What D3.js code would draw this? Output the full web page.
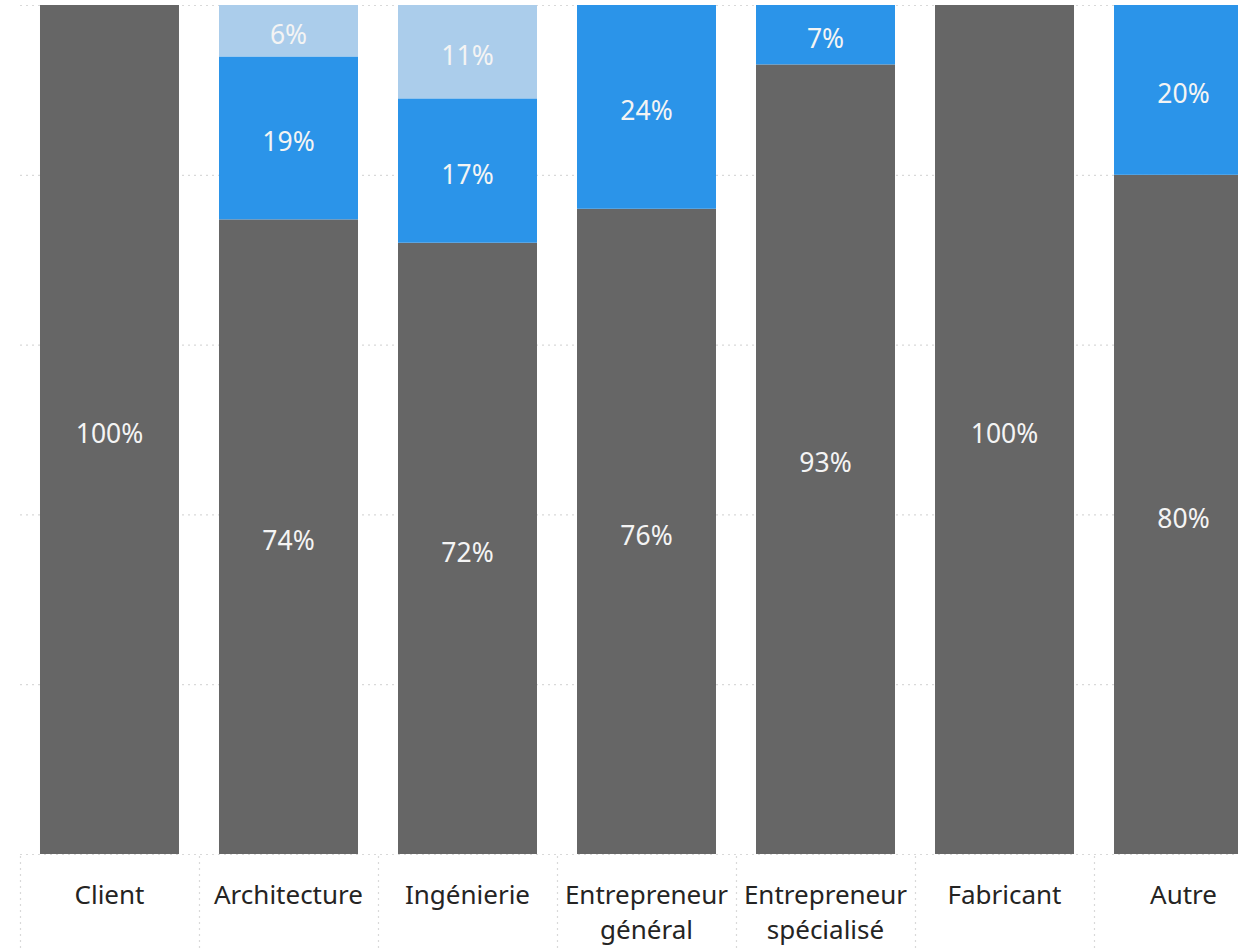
<!DOCTYPE html>
<html>
<head>
<meta charset="utf-8">
<script src="https://cdn.jsdelivr.net/npm/d3@7"></script>
<style>
  html, body { margin: 0; padding: 0; background: #ffffff; }
  svg { display: block; }
  text { font-family: "Segoe UI", "Noto Sans", "Open Sans", sans-serif; }
</style>
</head>
<body>
<svg id="chart" width="1238" height="948"></svg>
<script>
// Categories (x axis), each may wrap onto two lines
const categories = ["Client", "Architecture", "Ingénierie", "Entrepreneur général", "Entrepreneur spécialisé", "Fabricant", "Autre"];
const categoryLines = [["Client"], ["Architecture"], ["Ingénierie"], ["Entrepreneur", "général"], ["Entrepreneur", "spécialisé"], ["Fabricant"], ["Autre"]];

// Share of each category per series (percent)
const seriesNames = ["Principal", "Secondaire", "Tertiaire"];
const principal  = [100, 74, 72, 76, 93, 100, 80];
const secondaire = [0, 19, 17, 24, 7, 0, 20];
const tertiaire  = [0, 6, 11, 0, 0, 0, 0];

const gridTicks = [0, 20, 40, 60, 80, 100];
const colors = ["#666666", "#2b94e9", "#abcdeb"];

const svg = d3.select("#chart");

// Build rows for the stack (100% stacked: normalise each category)
const rows = categories.map((c, i) => {
  const total = principal[i] + secondaire[i] + tertiaire[i];
  return {
    cat: c,
    Principal: principal[i] / total * 100,
    Secondaire: secondaire[i] / total * 100,
    Tertiaire: tertiaire[i] / total * 100,
    raw: { Principal: principal[i], Secondaire: secondaire[i], Tertiaire: tertiaire[i] }
  };
});

const stack = d3.stack().keys(seriesNames);
const layers = stack(rows);

const x = d3.scaleBand()
  .domain(categories)
  .range([20, 1273])
  .paddingInner(0.2235)
  .paddingOuter(0.1117);

const y = d3.scaleLinear().domain([0, 100]).range([854, 5]);

// Horizontal dotted gridlines
svg.append("g")
  .selectAll("line")
  .data(gridTicks)
  .join("line")
  .attr("x1", 20)
  .attr("x2", 1238)
  .attr("y1", d => y(d) + 0.5)
  .attr("y2", d => y(d) + 0.5)
  .attr("stroke", "#d9d9d9")
  .attr("stroke-width", 1.2)
  .attr("stroke-dasharray", "2,4");

// Vertical dotted separators between category labels
const bounds = categories.map(c => x(c) - x.step() * x.paddingOuter());
svg.append("g")
  .selectAll("line")
  .data(bounds)
  .join("line")
  .attr("x1", d => Math.round(d) + 0.5)
  .attr("x2", d => Math.round(d) + 0.5)
  .attr("y1", 856)
  .attr("y2", 948)
  .attr("stroke", "#d9d9d9")
  .attr("stroke-width", 1.2)
  .attr("stroke-dasharray", "2,4");

// Stacked bars
const layerG = svg.append("g")
  .selectAll("g")
  .data(layers)
  .join("g")
  .attr("fill", (d, i) => colors[i]);

layerG.selectAll("rect")
  .data(d => d.map(v => ({ key: d.key, v })))
  .join("rect")
  .attr("x", d => x(d.v.data.cat))
  .attr("width", x.bandwidth())
  .attr("y", d => y(d.v[1]))
  .attr("height", d => y(d.v[0]) - y(d.v[1]));

// Value labels centred in each segment
layerG.selectAll("text")
  .data(d => d.map(v => ({ key: d.key, v })).filter(o => o.v.data.raw[o.key] > 0))
  .join("text")
  .attr("x", d => x(d.v.data.cat) + x.bandwidth() / 2)
  .attr("y", d => (y(d.v[0]) + y(d.v[1])) / 2)
  .attr("dy", "0.5em")
  .attr("text-anchor", "middle")
  .attr("fill", "#f4f4f4")
  .attr("font-size", 26.5)
  .text(d => d.v.data.raw[d.key] + "%");

// Category labels
const xl = svg.append("g")
  .selectAll("text")
  .data(categories)
  .join("text")
  .attr("x", c => x(c) + x.bandwidth() / 2)
  .attr("y", 895)
  .attr("text-anchor", "middle")
  .attr("fill", "#252423")
  .attr("font-size", 26);

xl.selectAll("tspan")
  .data((c, i) => categoryLines[i])
  .join("tspan")
  .attr("x", function() { return this.parentNode.getAttribute("x"); })
  .attr("dy", (d, i) => i === 0 ? "0.35em" : "1.35em")
  .text(d => d);
</script>
</body>
</html>
